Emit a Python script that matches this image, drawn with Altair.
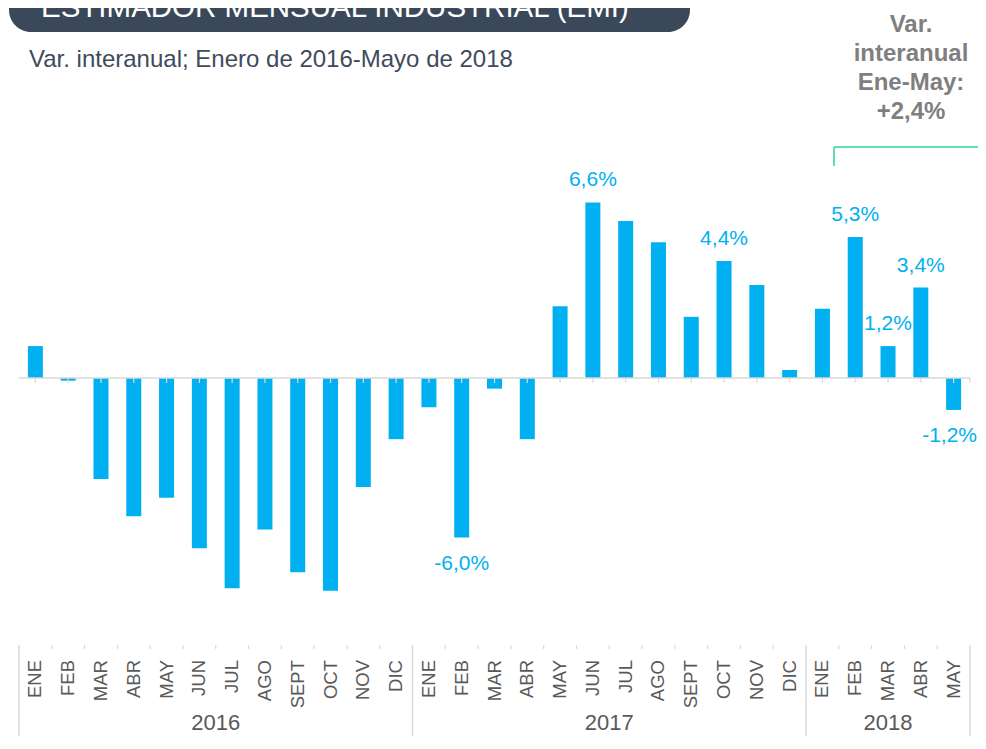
import altair as alt
import pandas as pd

# ---------------- data ----------------
title_text = "ESTIMADOR MENSUAL INDUSTRIAL (EMI)"
subtitle_text = "Var. interanual; Enero de 2016-Mayo de 2018"
note_lines = ["Var.", "interanual", "Ene-May:", "+2,4%"]

month_names = ["ENE", "FEB", "MAR", "ABR", "MAY", "JUN", "JUL", "AGO", "SEPT", "OCT", "NOV", "DIC"]
years = ["2016", "2017", "2018"]
values_2016 = [1.2, -0.1, -3.8, -5.2, -4.5, -6.4, -7.9, -5.7, -7.3, -8.0, -4.1, -2.3]
values_2017 = [-1.1, -6.0, -0.4, -2.3, 2.7, 6.6, 5.9, 5.1, 2.3, 4.4, 3.5, 0.3]
values_2018 = [2.6, 5.3, 1.2, 3.4, -1.2]
labelled = [("2017", "FEB"), ("2017", "JUN"), ("2017", "OCT"),
            ("2018", "FEB"), ("2018", "MAR"), ("2018", "ABR"), ("2018", "MAY")]

rows = []
for yr, vals in zip(years, [values_2016, values_2017, values_2018]):
    for m, v in zip(month_names, vals):
        rows.append({"year": yr, "month": m, "value": v})
df = pd.DataFrame(rows)
n = len(df)
df["pos"] = df.index + 0.5
df["base"] = 0.0
df["label"] = [
    (f"{v:.1f}".replace(".", ",") + "%") if (y, m) in labelled else ""
    for y, m, v in zip(df["year"], df["month"], df["value"])
]
df["last"] = df.index == n - 1

year_df = df.groupby("year", as_index=False)["pos"].mean()
year_starts = [int(df.index[df["year"] == y][0]) for y in years]
sep_df = pd.DataFrame({"b": year_starts + [n]})
tick_df = pd.DataFrame({"b": [b for b in range(1, n) if b not in year_starts]})
zero_tick_df = pd.DataFrame({"p": list(df["pos"]) + [n]})
zero_line_df = pd.DataFrame({"a": [0], "b": [n], "y": [0.0]})

# ---------------- layout / style ----------------
W, H = 961, 728
ZERO_Y = 370
PX = 26.6
ymax = ZERO_Y / PX
ymin = -(H - ZERO_Y) / PX

FONT = "Liberation Sans, Arial, sans-serif"
BLUE = "#00b0f0"
GRAY = "#595959"
LINE = "#d9d9d9"
SLATE = "#3a4859"
GREEN = "#2fd0a0"

xs = alt.Scale(domain=[0, n], nice=False, zero=False)
ys = alt.Scale(domain=[ymin, ymax], nice=False, zero=False)

bars = alt.Chart(df).mark_bar(width=15, color=BLUE).encode(
    x=alt.X("pos:Q", scale=xs, axis=None),
    y=alt.Y("value:Q", scale=ys, axis=None),
    y2="base:Q",
)

zero_line = alt.Chart(zero_line_df).mark_rule(color=LINE, strokeWidth=1.5).encode(
    x=alt.X("a:Q", scale=xs), x2="b:Q", y=alt.Y("y:Q", scale=ys)
)

zero_ticks = alt.Chart(zero_tick_df).mark_rule(color=LINE, strokeWidth=1.2).encode(
    x=alt.X("p:Q", scale=xs), y=alt.value(ZERO_Y), y2=alt.value(ZERO_Y + 5)
)

bottom_ticks = alt.Chart(tick_df).mark_rule(color=LINE, strokeWidth=1.2).encode(
    x=alt.X("b:Q", scale=xs), y=alt.value(637), y2=alt.value(641)
)

separators = alt.Chart(sep_df).mark_rule(color=LINE, strokeWidth=1.5).encode(
    x=alt.X("b:Q", scale=xs), y=alt.value(637), y2=alt.value(H)
)

month_labels = alt.Chart(df).mark_text(
    angle=270, align="right", baseline="middle", fontSize=18.5, color=GRAY, font=FONT
).encode(x=alt.X("pos:Q", scale=xs), y=alt.value(652), text="month:N")

year_labels = alt.Chart(year_df).mark_text(
    align="center", baseline="alphabetic", fontSize=22, color=GRAY, font=FONT
).encode(x=alt.X("pos:Q", scale=xs), y=alt.value(H - 6), text="year:N")

lab = df[df["label"] != ""]
pos_labels = alt.Chart(lab[lab["value"] > 0]).mark_text(
    align="center", baseline="alphabetic", dy=-16, fontSize=21, color=BLUE, font=FONT
).encode(x=alt.X("pos:Q", scale=xs), y=alt.Y("value:Q", scale=ys), text="label:N")

neg_labels = alt.Chart(lab[(lab["value"] < 0) & (~lab["last"])]).mark_text(
    align="center", baseline="alphabetic", dy=32, fontSize=21, color=BLUE, font=FONT
).encode(x=alt.X("pos:Q", scale=xs), y=alt.Y("value:Q", scale=ys), text="label:N")

# the last label sits at the right edge: keep it inside the drawing
edge_label = alt.Chart(lab[(lab["value"] < 0) & (lab["last"])]).mark_text(
    align="right", baseline="alphabetic", dy=32, fontSize=21, color=BLUE, font=FONT
).encode(x=alt.value(W + 2), y=alt.Y("value:Q", scale=ys), text="label:N")

title_box = alt.Chart(pd.DataFrame({"t": [title_text]})).mark_rect(
    color=SLATE, cornerRadius=22
).encode(x=alt.value(-5), x2=alt.value(676), y=alt.value(-40), y2=alt.value(24))

title = alt.Chart(pd.DataFrame({"t": [title_text]})).mark_text(
    align="left", baseline="alphabetic", fontSize=29.5, color="white", font=FONT
).encode(x=alt.value(27), y=alt.value(9), text="t:N")

subtitle = alt.Chart(pd.DataFrame({"t": [subtitle_text]})).mark_text(
    align="left", baseline="alphabetic", fontSize=24, color="#3f4b5b", font=FONT
).encode(x=alt.value(15), y=alt.value(59), text="t:N")

note = alt.Chart(pd.DataFrame({"t": ["\n".join(note_lines)]})).mark_text(
    align="center", baseline="alphabetic", fontSize=24, fontWeight="bold",
    color="#7f7f7f", font=FONT, lineBreak="\n", lineHeight=29
).encode(x=alt.value(897), y=alt.value(24), text="t:N")

bracket_v = alt.Chart(pd.DataFrame({"t": [0]})).mark_rule(color=GREEN, strokeWidth=1.5).encode(
    x=alt.value(820), y=alt.value(139), y2=alt.value(158)
)
bracket_h = alt.Chart(pd.DataFrame({"t": [0]})).mark_rule(color=GREEN, strokeWidth=1.5).encode(
    x=alt.value(820), x2=alt.value(W + 3), y=alt.value(139)
)

chart = alt.layer(
    title_box, title, subtitle, note, bracket_h, bracket_v,
    bars, zero_line, zero_ticks, bottom_ticks, separators,
    month_labels, year_labels, pos_labels, neg_labels, edge_label,
).properties(
    width=W, height=H,
    padding={"left": 6, "right": 3, "top": 0, "bottom": 0},
    autosize=alt.AutoSizeParams(type="none"),
    background="white",
).configure_view(stroke=None)

chart.save("out.html", embed_options={"renderer": "svg", "actions": False})
